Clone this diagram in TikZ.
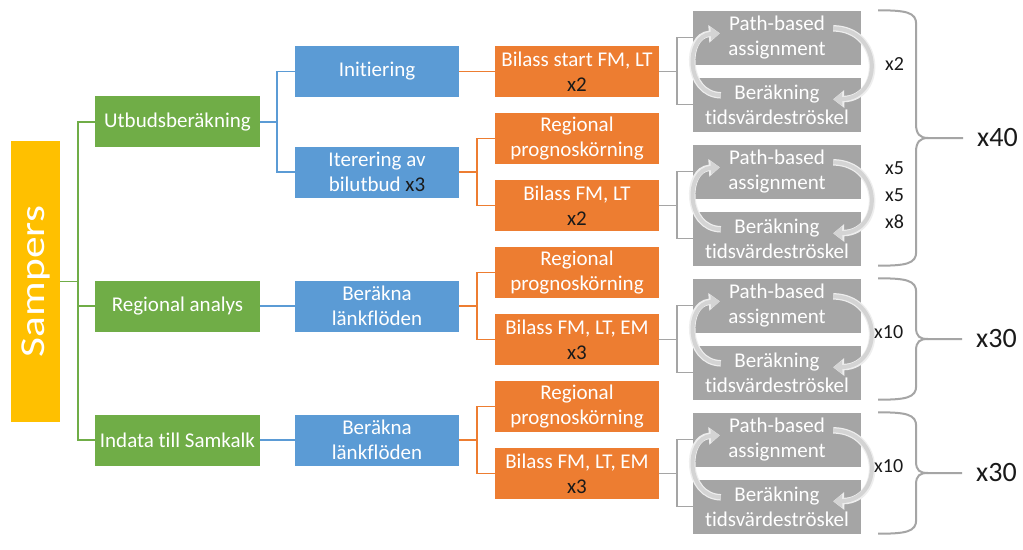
\documentclass[tikz,border=0pt]{standalone}
\usepackage{fontspec}
\setmainfont{Carlito}[RawFeature={-liga}]
\usetikzlibrary{arrows.meta,calc}
\definecolor{yel}{HTML}{FFC000}
\definecolor{grn}{HTML}{70AD47}
\definecolor{blu}{HTML}{5B9BD5}
\definecolor{org}{HTML}{ED7D31}
\definecolor{gry}{HTML}{A5A5A5}
\definecolor{arcin}{HTML}{D4D4D4}
\definecolor{arcout}{HTML}{EEEEEE}
\definecolor{txtblk}{HTML}{1A1A1A}
\tikzset{
  box/.style={rectangle, inner sep=0pt, align=center, text=white, font=\fontsize{21}{25}\selectfont},
  gbox/.style={box, fill=grn, minimum width=165pt, minimum height=51pt},
  bbox/.style={box, fill=blu, minimum width=164pt, minimum height=51pt},
  obox/.style={box, fill=org, minimum width=164pt, minimum height=51pt},
  rbox/.style={box, fill=gry, minimum width=168pt, minimum height=54pt},
  gline/.style={draw=grn, line width=1.5pt},
  bline/.style={draw=blu, line width=1.5pt},
  oline/.style={draw=org, line width=1.5pt},
  rline/.style={draw=gry, line width=1.5pt},
  brace/.style={draw=gry, line width=2pt},
  arcouter/.style={draw=arcout, line width=6.5pt, -{Triangle[length=11pt,width=17pt]}},
  arcinner/.style={draw=arcin, line width=4pt, -{Triangle[length=9pt,width=13pt]}},
  cnt/.style={anchor=west, inner sep=0pt, text=txtblk, font=\fontsize{20}{24}\selectfont},
  big/.style={anchor=west, inner sep=0pt, text=txtblk, font=\fontsize{28}{32}\selectfont}
}
\begin{document}
\begin{tikzpicture}[x=1pt,y=-1pt]
\useasboundingbox (0,0) rectangle (1023,549);
\fill[white] (0,0) rectangle (1023,549);

% Sampers
\node[fill=yel, rotate=90, minimum width=281pt, minimum height=49pt, inner sep=0pt,
      text=white, font=\fontsize{35}{40}\selectfont] (S) at (35.5,281.5) {\scalebox{1.24}[1]{Sampers}};

% green level
\node[gbox] (g1) at (177.5,121.75) {Utbudsberäkning};
\node[gbox] (g2) at (177.5,306) {Regional analys};
\node[gbox] (g3) at (177.5,440) {Indata till Samkalk};

% blue level
\node[bbox] (b1) at (377,71.5) {Initiering};
\node[bbox] (b2) at (377,172) {Iterering av\\bilutbud \textcolor{txtblk}{x3}};
\node[bbox] (b3) at (377,306) {Beräkna\\länkflöden};
\node[bbox] (b4) at (377,440) {Beräkna\\länkflöden};

% orange level
\node[obox] (o1) at (577,71.5) {Bilass start FM, LT\\\textcolor{txtblk}{x2}};
\node[obox] (o2) at (577,138.5) {Regional\\prognoskörning};
\node[obox] (o3) at (577,205.5) {Bilass FM, LT\\\textcolor{txtblk}{x2}};
\node[obox] (o4) at (577,272.5) {Regional\\prognoskörning};
\node[obox] (o5) at (577,339.5) {Bilass FM, LT, EM\\\textcolor{txtblk}{x3}};
\node[obox] (o6) at (577,406.5) {Regional\\prognoskörning};
\node[obox] (o7) at (577,473.5) {Bilass FM, LT, EM\\\textcolor{txtblk}{x3}};

% gray level
\node[rbox] (p1) at (777,37.5) {Path-based\\assignment};
\node[rbox] (r1) at (777,104.5) {Beräkning\\tidsvärdeströskel};
\node[rbox] (p2) at (777,171.5) {Path-based\\assignment};
\node[rbox] (r2) at (777,238.5) {Beräkning\\tidsvärdeströskel};
\node[rbox] (p3) at (777,305.5) {Path-based\\assignment};
\node[rbox] (r3) at (777,372.5) {Beräkning\\tidsvärdeströskel};
\node[rbox] (p4) at (777,439.5) {Path-based\\assignment};
\node[rbox] (r4) at (777,506.5) {Beräkning\\tidsvärdeströskel};

% green connectors
\draw[gline] (S.south) -- ++(18,0);
\draw[gline] (g1.west) -- ++(-17,0) |- (g3.west);
\draw[gline] (g2.west) -- ++(-17,0);

% blue connectors
\draw[bline] (g1.east) -- ++(17,0);
\draw[bline] (b1.west) -- ++(-18,0) |- (b2.west);
\draw[bline] (g2.east) -- (b3.west);
\draw[bline] (g3.east) -- (b4.west);

% orange connectors
\draw[oline] (b1.east) -- (o1.west);
\draw[oline] (b2.east) -- ++(18,0);
\draw[oline] (o2.west) -- ++(-18,0) |- (o3.west);
\draw[oline] (b3.east) -- ++(18,0);
\draw[oline] (o4.west) -- ++(-18,0) |- (o5.west);
\draw[oline] (b4.east) -- ++(18,0);
\draw[oline] (o6.west) -- ++(-18,0) |- (o7.west);

% gray connectors
\draw[rline] (o1.east) -- ++(18,0);
\draw[rline] (p1.west) -- ++(-16,0) |- (r1.west);
\draw[rline] (o3.east) -- ++(18,0);
\draw[rline] (p2.west) -- ++(-16,0) |- (r2.west);
\draw[rline] (o5.east) -- ++(18,0);
\draw[rline] (p3.west) -- ++(-16,0) |- (r3.west);
\draw[rline] (o7.east) -- ++(18,0);
\draw[rline] (p4.west) -- ++(-16,0) |- (r4.west);

% circular arrows
\foreach \p in {p1,p2,p3,p4}{
  \foreach \st in {arcouter,arcinner}{
    \draw[\st] ($(\p.north west)+(28,85)$) .. controls ($(\p.north west)+(-8,84)$) and ($(\p.north west)+(-8,25)$) .. ($(\p.north west)+(27,23)$);
    \draw[\st] ($(\p.north east)+(-28,18)$) .. controls ($(\p.north east)+(22,19)$) and ($(\p.north east)+(22,88)$) .. ($(\p.north east)+(-28,89)$);
  }
}

% repeat counts
\node[cnt] (c1) at (885,64) {x2};
\node[cnt] (c2) at (885,168) {x5};
\node[cnt] (c3) at (885,195) {x5};
\node[cnt] (c4) at (885,222) {x8};
\node[cnt] (c5) at (874,332) {x10};
\node[cnt] (c6) at (874,466) {x10};

% braces
\draw[brace] (p1.north east) ++(17,0)
  .. controls ++(28,0) and ++(0,-12) .. ++(38,14) -- (916,124)
  .. controls ++(0,10) and ++(-8,0) .. (928,138) -- (963,138);
\draw[brace] (r2.south east) ++(17,0)
  .. controls ++(28,0) and ++(0,12) .. ++(38,-14) -- (916,152)
  .. controls ++(0,-10) and ++(-8,0) .. (928,138);
\node[big] (n40) at (977,138) {x40};

\draw[brace] (p3.north east) ++(17,0)
  .. controls ++(28,0) and ++(0,-12) .. ++(38,14) -- (916,327)
  .. controls ++(0,10) and ++(-8,0) .. (928,339) -- (962,339);
\draw[brace] (r3.south east) ++(17,0)
  .. controls ++(28,0) and ++(0,12) .. ++(38,-14) -- (916,351)
  .. controls ++(0,-10) and ++(-8,0) .. (928,339);
\node[big] (n30a) at (976,339) {x30};

\draw[brace] (p4.north east) ++(17,0)
  .. controls ++(28,0) and ++(0,-12) .. ++(38,14) -- (916,461)
  .. controls ++(0,10) and ++(-8,0) .. (928,473) -- (962,473);
\draw[brace] (r4.south east) ++(17,0)
  .. controls ++(28,0) and ++(0,12) .. ++(38,-14) -- (916,485)
  .. controls ++(0,-10) and ++(-8,0) .. (928,473);
\node[big] (n30b) at (976,473) {x30};
\end{tikzpicture}
\end{document}
